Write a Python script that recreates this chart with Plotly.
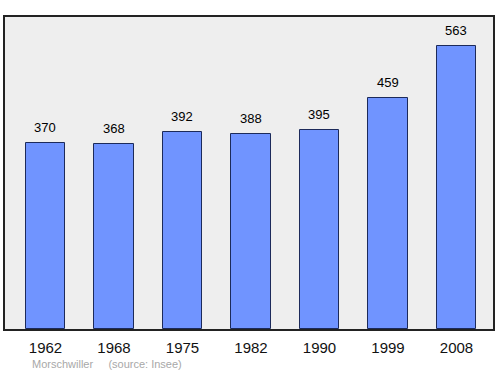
import plotly.graph_objects as go

years = ["1962", "1968", "1975", "1982", "1990", "1999", "2008"]
population = [370, 368, 392, 388, 395, 459, 563]

positions = list(range(len(years)))

fig = go.Figure()
fig.add_trace(go.Bar(
    x=positions,
    y=population,
    width=0.57,
    marker=dict(color="#7094FF", line=dict(color="#1c2a5a", width=1)),
    hoverinfo="skip",
))

for p, v in zip(positions, population):
    fig.add_annotation(x=p, y=v, text=str(v), showarrow=False,
                       yanchor="bottom", yshift=6,
                       font=dict(family="Liberation Sans, Arial", size=13, color="#000"))

fig.add_annotation(xref="paper", yref="paper", x=0.052, y=-0.088,
                   xanchor="left", yanchor="top", showarrow=False,
                   text="Morschwiller &nbsp;&nbsp;&nbsp;&nbsp;(source: Insee)",
                   font=dict(family="Liberation Sans, Arial", size=11, color="#a8a8a8"))

fig.update_layout(
    width=500, height=374,
    margin=dict(l=5, r=7, t=17, b=45),
    paper_bgcolor="white",
    plot_bgcolor="#eeeeee",
    showlegend=False,
    bargap=0,
    xaxis=dict(
        range=[-0.591, 6.533],
        tickmode="array", tickvals=positions, ticktext=years,
        showgrid=False, zeroline=False, ticks="",
        ticklabelstandoff=4,
        showline=True, linecolor="#222", linewidth=1.5, mirror=True,
        tickfont=dict(family="Liberation Sans, Arial", size=15, color="#111"),
        fixedrange=True,
    ),
    yaxis=dict(
        range=[0, 620], showgrid=False, zeroline=False,
        showticklabels=False, ticks="",
        showline=True, linecolor="#222", linewidth=1.5, mirror=True,
        fixedrange=True,
    ),
)

fig.write_html("out.html", config={"displayModeBar": False})
